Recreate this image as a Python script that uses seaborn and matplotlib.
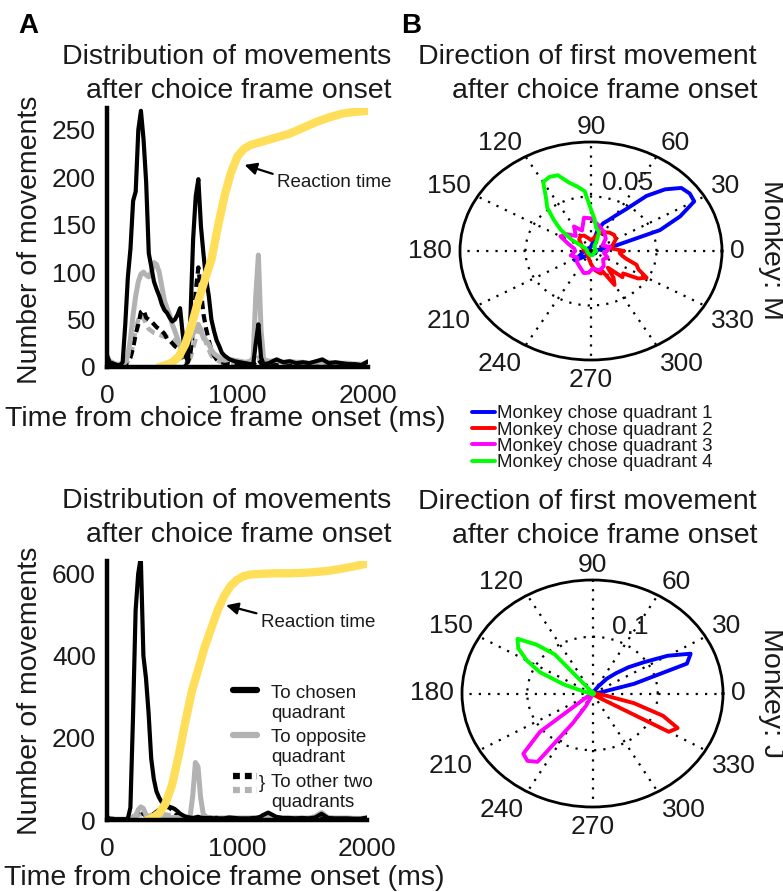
import numpy as np
import pandas as pd
import matplotlib
matplotlib.use("Agg")
import matplotlib.pyplot as plt
import seaborn as sns
from matplotlib.lines import Line2D
from matplotlib.text import Text
from matplotlib.legend_handler import HandlerBase

# ------------------------------------------------------------------ data
time_ms = [0, 20, 40, 60, 80, 100, 120, 140, 160, 180,
           200, 220, 240, 260, 280, 300, 320, 340, 360, 380,
           400, 420, 440, 460, 480, 500, 520, 540, 560, 580,
           600, 620, 640, 660, 680, 700, 720, 740, 760, 780,
           800, 820, 840, 860, 880, 900, 940, 980, 1020, 1060,
           1100, 1120, 1140, 1160, 1180, 1200, 1240, 1300, 1350, 1400,
           1450, 1500, 1550, 1600, 1650, 1700, 1750, 1800, 1850, 1900,
           1950, 2000]

# Monkey M
chosen_M = [12, 5, 4, 3, 2, 2, 5, 45, 95, 125,
            175, 185, 250, 270, 240, 195, 120, 105, 90, 82,
            75, 66, 60, 57, 52, 48, 50, 55, 62, 35,
            12, 6, 55, 135, 180, 198, 148, 118, 92, 75,
            50, 38, 28, 22, 15, 12, 8, 6, 5, 4,
            3, 2, 25, 45, 10, 3, 4, 8, 5, 6,
            4, 5, 4, 6, 8, 4, 5, 4, 3, 3,
            2, 6]
opposite_M = [12, 6, 5, 3, 3, 3, 3, 5, 12, 30,
              55, 75, 90, 98, 100, 97, 95, 100, 110, 108,
              100, 85, 70, 62, 55, 45, 38, 30, 22, 15,
              12, 20, 30, 35, 40, 45, 38, 30, 28, 24,
              18, 14, 12, 10, 8, 7, 8, 7, 6, 5,
              6, 10, 75, 118, 40, 8, 6, 7, 5, 6,
              5, 5, 4, 5, 5, 5, 4, 4, 4, 3,
              3, 4]
other_black_M = [3, 2, 2, 2, 2, 2, 2, 3, 5, 10,
                 20, 35, 45, 58, 60, 52, 50, 48, 45, 42,
                 40, 38, 35, 30, 28, 25, 22, 20, 12, 6,
                 3, 5, 15, 40, 80, 105, 80, 55, 40, 28,
                 18, 12, 8, 6, 5, 4, 4, 3, 3, 3,
                 3, 3, 5, 8, 4, 3, 3, 4, 3, 3,
                 3, 3, 3, 3, 3, 3, 3, 3, 3, 3,
                 3, 3]
other_gray_M = [5, 4, 3, 3, 3, 3, 3, 4, 6, 10,
                25, 40, 50, 55, 52, 45, 40, 38, 36, 35,
                34, 33, 32, 32, 31, 30, 28, 25, 20, 12,
                8, 6, 10, 20, 30, 38, 40, 35, 25, 18,
                12, 9, 7, 6, 5, 5, 4, 4, 4, 4,
                4, 4, 6, 10, 5, 4, 4, 4, 3, 3,
                3, 3, 3, 3, 3, 3, 3, 3, 3, 3,
                3, 3]
rt_time_M = [400, 450, 500, 550, 600, 650, 700, 750, 800, 850, 900, 950, 1000,
             1050, 1100, 1150, 1200, 1300, 1400, 1500, 1600, 1700, 1800, 1900, 2000]
rt_M = [0, 2, 5, 11, 24, 45, 70, 92, 113, 148, 180, 205, 222,
        230, 234, 236, 238, 242, 246, 252, 258, 263, 267, 269, 270]

# Monkey J
chosen_J = [8, 3, 3, 2, 2, 2, 2, 2, 3, 30,
            250, 510, 600, 640, 400, 345, 260, 150, 100, 70,
            55, 44, 40, 36, 32, 30, 27, 22, 16, 12,
            9, 7, 6, 5, 6, 8, 6, 5, 5, 5,
            5, 4, 5, 4, 4, 4, 6, 5, 4, 4,
            4, 5, 5, 6, 8, 12, 18, 8, 5, 5,
            4, 5, 4, 6, 15, 5, 4, 4, 4, 3,
            3, 6]
opposite_J = [6, 3, 3, 2, 2, 2, 2, 2, 3, 5,
              8, 10, 25, 32, 28, 12, 8, 6, 6, 6,
              6, 6, 6, 6, 6, 6, 6, 6, 6, 5,
              5, 6, 10, 60, 140, 130, 55, 15, 8, 6,
              6, 5, 6, 5, 5, 5, 6, 5, 5, 5,
              5, 5, 5, 5, 5, 5, 6, 6, 5, 5,
              5, 5, 5, 8, 18, 6, 5, 5, 5, 4,
              4, 5]
other_black_J = [3, 2, 2, 2, 2, 2, 2, 2, 2, 3,
                 8, 12, 20, 25, 15, 10, 8, 10, 15, 20,
                 25, 28, 30, 32, 30, 25, 20, 12, 8, 5,
                 4, 3, 3, 3, 3, 3, 3, 3, 3, 3,
                 3, 3, 3, 3, 3, 3, 3, 3, 3, 3,
                 3, 3, 3, 3, 3, 3, 3, 3, 3, 3,
                 3, 3, 3, 3, 3, 3, 3, 3, 3, 3,
                 3, 3]
other_gray_J = [3, 2, 2, 2, 2, 2, 2, 2, 2, 3,
                5, 8, 12, 15, 12, 10, 10, 12, 14, 15,
                15, 15, 14, 13, 12, 12, 10, 8, 6, 5,
                4, 4, 4, 5, 6, 6, 5, 4, 4, 4,
                4, 4, 4, 4, 4, 4, 4, 4, 4, 4,
                4, 4, 4, 4, 4, 4, 4, 4, 4, 4,
                4, 4, 4, 4, 4, 4, 4, 4, 4, 4,
                4, 4]
rt_time_J = [310, 350, 400, 450, 500, 550, 600, 650, 700, 750, 800, 850, 900,
             950, 1000, 1050, 1100, 1200, 1300, 1400, 1500, 1600, 1700, 1800, 1900, 2000]
rt_J = [0, 5, 16, 40, 85, 155, 235, 310, 365, 420, 465, 510, 545,
        570, 585, 594, 598, 600, 601, 601, 602, 604, 607, 612, 618, 625]

# Direction of first movement (angle in degrees, radius)
q1_M_deg = [0, 10, 15, 20, 25, 30, 35, 40, 45, 50, 55, 60, 65, 70, 75, 80, 90,
            120, 150, 180, 200, 215, 230, 260, 300, 330, 360]
q1_M_r = [0.004, 0.005, 0.02, 0.056, 0.075, 0.091, 0.092, 0.09, 0.08, 0.066, 0.047,
          0.0375, 0.031, 0.027, 0.02, 0.008, 0.004, 0.003, 0.004, 0.005, 0.008,
          0.015, 0.006, 0.003, 0.003, 0.004, 0.004]
q2_M_deg = [0, 10, 20, 30, 40, 50, 60, 70, 80, 90, 100, 110, 120, 130, 140, 150, 160,
            180, 200, 220, 240, 260, 270, 280, 290, 295, 300, 305, 310, 315, 320,
            325, 330, 335, 340, 345, 350, 355, 360]
q2_M_r = [0.025, 0.015, 0.018, 0.022, 0.023, 0.022, 0.02, 0.017, 0.012, 0.01, 0.012,
          0.015, 0.016, 0.014, 0.01, 0.008, 0.006, 0.005, 0.004, 0.004, 0.005, 0.008,
          0.012, 0.018, 0.022, 0.02, 0.036, 0.03, 0.02, 0.034, 0.032, 0.044, 0.049,
          0.04, 0.037, 0.028, 0.024, 0.022, 0.025]
q3_M_deg = [0, 15, 30, 45, 60, 75, 90, 100, 110, 120, 130, 140, 150, 160, 170, 180,
            195, 210, 225, 240, 255, 265, 275, 290, 305, 320, 335, 350, 360]
q3_M_r = [0.012, 0.015, 0.01, 0.016, 0.02, 0.024, 0.03, 0.031, 0.02, 0.026, 0.018,
          0.024, 0.027, 0.018, 0.013, 0.012, 0.016, 0.012, 0.015, 0.017, 0.021, 0.02,
          0.016, 0.019, 0.017, 0.012, 0.014, 0.01, 0.012]
q4_M_deg = [0, 20, 40, 60, 65, 70, 75, 80, 85, 90, 95, 100, 105, 110, 115, 120, 125,
            130, 135, 140, 145, 150, 170, 200, 230, 260, 290, 320, 350, 360]
q4_M_r = [0.004, 0.003, 0.004, 0.005, 0.01, 0.018, 0.02, 0.022, 0.03, 0.038, 0.055,
          0.06, 0.065, 0.074, 0.075, 0.073, 0.06, 0.052, 0.04, 0.03, 0.018, 0.005,
          0.003, 0.003, 0.003, 0.004, 0.004, 0.003, 0.003, 0.004]

q1_J_deg = [0, 5, 10, 15, 20, 25, 30, 35, 40, 45, 50, 55, 60, 90, 120, 150, 180,
            210, 240, 270, 300, 330, 360]
q1_J_r = [0.004, 0.005, 0.015, 0.066, 0.154, 0.166, 0.133, 0.096, 0.072, 0.05, 0.034,
          0.015, 0.005, 0.003, 0.002, 0.002, 0.002, 0.002, 0.002, 0.002, 0.003, 0.003,
          0.004]
q2_J_deg = [0, 30, 60, 90, 180, 270, 300, 315, 320, 325, 330, 335, 340, 345, 350, 355, 360]
q2_J_r = [0.004, 0.003, 0.002, 0.002, 0.002, 0.002, 0.003, 0.004, 0.006, 0.015, 0.135,
          0.144, 0.115, 0.066, 0.02, 0.008, 0.004]
q3_J_deg = [0, 90, 180, 200, 210, 215, 220, 225, 230, 235, 240, 245, 250, 255, 270, 360]
q3_J_r = [0.002, 0.002, 0.002, 0.003, 0.004, 0.01, 0.105, 0.15, 0.155, 0.147, 0.06,
          0.025, 0.008, 0.004, 0.003, 0.002]
q4_J_deg = [0, 60, 90, 110, 120, 125, 130, 135, 140, 145, 150, 155, 160, 165, 170, 180,
            270, 360]
q4_J_r = [0.002, 0.002, 0.003, 0.004, 0.005, 0.01, 0.09, 0.122, 0.15, 0.139, 0.116,
          0.089, 0.047, 0.015, 0.006, 0.004, 0.002, 0.002]

theta_ticks = [0, 30, 60, 90, 120, 150, 180, 210, 240, 270, 300, 330]
quadrant_labels = ["Monkey chose quadrant 1", "Monkey chose quadrant 2",
                   "Monkey chose quadrant 3", "Monkey chose quadrant 4"]
series_labels = ["To chosen\nquadrant", "To opposite\nquadrant",
                 "To other two\nquadrants"]

# ------------------------------------------------------------------ style
sns.set_theme(style="white")
TXT = "#1a1a1a"
plt.rcParams["font.family"] = ["Liberation Sans", "DejaVu Sans"]
plt.rcParams.update({"text.color": TXT, "axes.labelcolor": TXT,
                     "xtick.color": TXT, "ytick.color": TXT,
                     "axes.edgecolor": "black"})

BLACK = "#000000"
GRAY = "#b2b2b2"
YELLOW = "#ffdf5a"
QCOL = ["#0000ff", "#ff0000", "#ff00ff", "#00ff00"]
DASH = (0, (2.0, 1.2))

W, H = 783, 892
fig = plt.figure(figsize=(W / 100, H / 100), dpi=100)


def fx(px):
    return px / W


def fy(py):
    return 1 - py / H


def time_panel(rect, chosen, opposite, ob, og, rt_t, rt, ymax, yticks,
               arrow_xy, text_xy, ylab_y, xlab_y):
    ax = fig.add_axes(rect)
    df = pd.DataFrame({"t": time_ms, "chosen": chosen, "opposite": opposite,
                       "ob": ob, "og": og})
    sns.lineplot(data=df, x="t", y="og", ax=ax, color=GRAY, lw=3.2,
                 linestyle=DASH, estimator=None)
    sns.lineplot(data=df, x="t", y="ob", ax=ax, color=BLACK, lw=3.0,
                 linestyle=DASH, estimator=None)
    sns.lineplot(data=df, x="t", y="opposite", ax=ax, color=GRAY, lw=3.6,
                 estimator=None)
    sns.lineplot(data=df, x="t", y="chosen", ax=ax, color=BLACK, lw=3.0,
                 estimator=None)
    sns.lineplot(x=rt_t, y=rt, ax=ax, color=YELLOW, lw=6.0, estimator=None,
                 solid_capstyle="round")
    ax.set_xlim(0, 2000)
    ax.set_ylim(0, ymax)
    ax.set_xticks([0, 1000, 2000])
    ax.set_yticks(yticks)
    for s in ["top", "right"]:
        ax.spines[s].set_visible(False)
    for s in ["left", "bottom"]:
        ax.spines[s].set_linewidth(3.2)
        ax.spines[s].set_color("black")
    ax.tick_params(axis="both", direction="in", length=4, width=3, labelsize=19,
                   color="black")
    ax.tick_params(axis="y", pad=8)
    ax.tick_params(axis="x", pad=12)
    ax.set_ylabel("Number of movements", fontsize=20.5)
    ax.set_xlabel("Time from choice frame onset (ms)", fontsize=20.5)
    ax.yaxis.set_label_coords(-0.245, ylab_y)
    ax.xaxis.set_label_coords(0.452, xlab_y)
    ax.annotate("Reaction time", xy=arrow_xy, xytext=text_xy, fontsize=13.5,
                ha="left", va="center",
                arrowprops=dict(arrowstyle="-|>", color="black", lw=1.6,
                                mutation_scale=18, shrinkA=1, shrinkB=0,
                                relpos=(0.0, 0.95)))
    return ax


axA1 = time_panel([fx(107), fy(367), fx(261), 259 / H], chosen_M, opposite_M,
                  other_black_M, other_gray_M, rt_time_M, rt_M, 273,
                  [0, 50, 100, 150, 200, 250], (1054, 213), (1305, 194), 0.49, -0.15)
axA2 = time_panel([fx(107), fy(820), fx(260), 259 / H], chosen_J, opposite_J,
                  other_black_J, other_gray_J, rt_time_J, rt_J, 631,
                  [0, 200, 400, 600], (916, 523), (1185, 482), 0.5, -0.175)


def polar_panel(rect, series, rmax, rtick, rlabel_pos, monkey, my):
    ax = fig.add_axes(rect, projection="polar")
    ax.set_aspect("auto")
    for (deg, r), c in zip(series, QCOL):
        sns.lineplot(x=np.deg2rad(deg), y=r, ax=ax, color=c, lw=2.8,
                     sort=False, estimator=None)
    ax.set_ylim(0, rmax)
    ax.set_yticks([rtick])
    ax.set_yticklabels([])
    ax.set_xticks(np.deg2rad(theta_ticks))
    ax.set_xticklabels([])
    ax.tick_params(axis="x", size=0)
    ax.grid(True, color="black", linestyle=(0, (1, 3.2)), lw=1.6)
    ax.spines["polar"].set_linewidth(2.0)
    ax.spines["polar"].set_color("black")
    ax.set_xlabel("")
    ax.set_ylabel("")
    # angle labels just outside the rim, aligned by direction (MATLAB style)
    gap = 5.5
    for a in theta_ticks:
        c, s = np.cos(np.deg2rad(a)), np.sin(np.deg2rad(a))
        ha = "center" if abs(c) < 0.1 else ("left" if c > 0 else "right")
        if abs(s) < 0.3:
            va = "center"
        else:
            va = "baseline" if s > 0 else "top"
        ax.annotate(str(a), xy=(np.deg2rad(a), rmax), xytext=(gap * c, gap * s),
                    textcoords="offset points", ha=ha, va=va, fontsize=19,
                    annotation_clip=False)
    ax.text(np.deg2rad(rlabel_pos[0]), rlabel_pos[1], f"{rtick:g}", fontsize=19,
            ha="center", va="center")
    fig.text(fx(771), fy(my), monkey, rotation=270, fontsize=20.5,
             ha="center", va="center")
    return ax


axB1 = polar_panel([fx(460), fy(360), fx(262), 218 / H],
                   [(q1_M_deg, q1_M_r), (q2_M_deg, q2_M_r),
                    (q3_M_deg, q3_M_r), (q4_M_deg, q4_M_r)],
                   0.1, 0.05, (66, 0.068), "Monkey: M", 250)
axB2 = polar_panel([fx(462), fy(807), fx(261), 227 / H],
                   [(q1_J_deg, q1_J_r), (q2_J_deg, q2_J_r),
                    (q3_J_deg, q3_J_r), (q4_J_deg, q4_J_r)],
                   0.2, 0.1, (63.5, 0.13), "Monkey: J", 693)

# legend for polar quadrants
qh = [Line2D([], [], color=c, lw=2.8) for c in QCOL]
fig.legend(qh, quadrant_labels, loc="upper left",
           bbox_to_anchor=(fx(472), fy(405)), frameon=False, fontsize=13.5,
           handlelength=1.2, handletextpad=0.12, labelspacing=-0.04,
           borderpad=0, borderaxespad=0)


# legend for movement series (two-line labels, glyphs aligned to first line)
class StackHandler(HandlerBase):
    def __init__(self, specs, brace=False, lift=7.8):
        super().__init__()
        self.specs = specs
        self.brace = brace
        self.lift = lift

    def create_artists(self, legend, orig_handle, xdescent, ydescent, width,
                       height, fontsize, trans):
        yc = height / 2 - ydescent + self.lift
        x0, x1 = -xdescent, -xdescent + width
        arts = []
        for color, ls, dy in self.specs:
            arts.append(Line2D([x0, x1], [yc + dy] * 2, color=color, lw=4.5,
                               linestyle=ls, transform=trans))
        if self.brace:
            arts.append(Text(x1 + 1.0, yc - 1.5, "}", fontsize=fontsize,
                             ha="left", va="center", color=TXT,
                             transform=trans))
        return arts


h_chosen, h_opp, h_other = object(), object(), object()
DOT = (0, (1.1, 0.8))
leg = fig.legend([h_chosen, h_opp, h_other], series_labels, loc="upper left",
                 bbox_to_anchor=(fx(233), fy(685)), frameon=False, fontsize=13.5,
                 handlelength=1.3, handletextpad=0.75, labelspacing=0.4,
                 borderpad=0, borderaxespad=0,
                 handler_map={
                     h_chosen: StackHandler([(BLACK, "-", 1.5)]),
                     h_opp: StackHandler([(GRAY, "-", 1.5)]),
                     h_other: StackHandler([(BLACK, DOT, 3.5), (GRAY, DOT, -6.0)],
                                           brace=True)})
for t in leg.get_texts():
    t.set_linespacing(1.22)

# titles and panel letters
for (xr, yc, txt) in [(391, 74, "Distribution of movements\nafter choice frame onset"),
                      (757, 74, "Direction of first movement\nafter choice frame onset"),
                      (391, 518, "Distribution of movements\nafter choice frame onset"),
                      (757, 519, "Direction of first movement\nafter choice frame onset")]:
    fig.text(fx(xr), fy(yc), txt, ha="right", va="center", multialignment="right",
             fontsize=20.5, linespacing=1.42)
fig.text(fx(28), fy(26), "A", ha="center", va="center", fontsize=20,
         fontweight="bold", color="black")
fig.text(fx(411), fy(26), "B", ha="center", va="center", fontsize=20,
         fontweight="bold", color="black")

fig.savefig("out.png", dpi=100)
